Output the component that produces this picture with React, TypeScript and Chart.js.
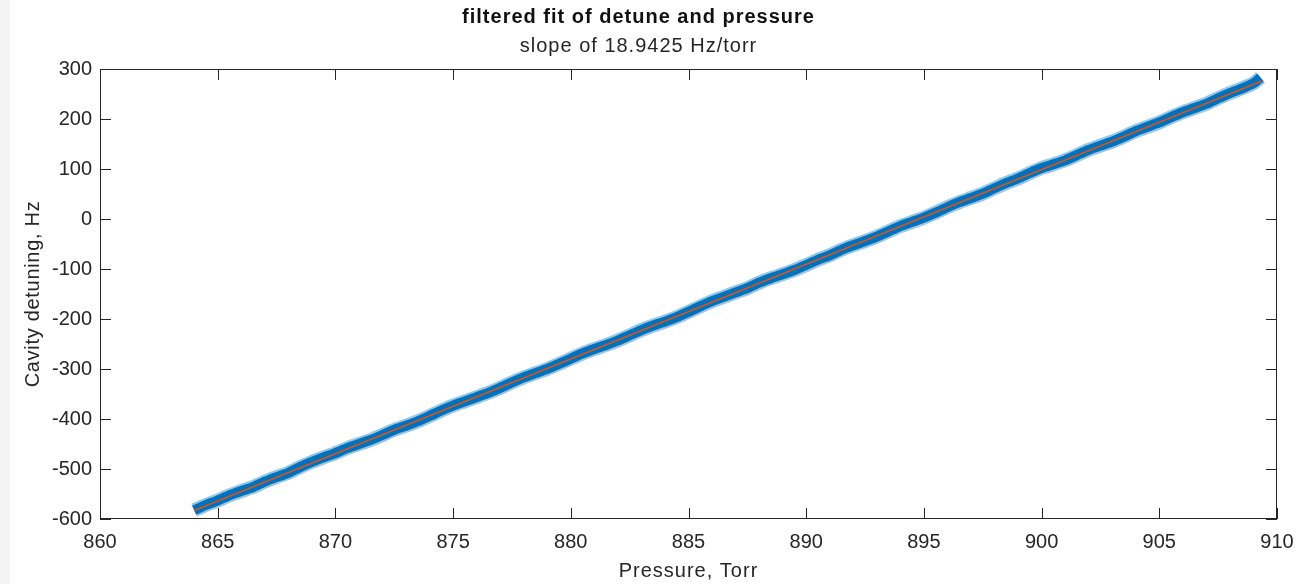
import React, { useEffect, useRef } from "react";
import { Chart, registerables } from "chart.js";

Chart.register(...registerables);

const TITLE = "filtered fit of detune and pressure";
const SUBTITLE = "slope of 18.9425 Hz/torr";
const X_LABEL = "Pressure, Torr";
const Y_LABEL = "Cavity detuning, Hz";

const xTicks = [860, 865, 870, 875, 880, 885, 890, 895, 900, 905, 910];
const yTicks = [-600, -500, -400, -300, -200, -100, 0, 100, 200, 300];

const pressure = [
  864.0, 864.5, 865.0, 865.5, 866.0, 866.5, 867.0, 867.5, 868.0, 868.5,
  869.0, 869.5, 870.0, 870.5, 871.0, 871.5, 872.0, 872.5, 873.0, 873.5,
  874.0, 874.5, 875.0, 875.5, 876.0, 876.5, 877.0, 877.5, 878.0, 878.5,
  879.0, 879.5, 880.0, 880.5, 881.0, 881.5, 882.0, 882.5, 883.0, 883.5,
  884.0, 884.5, 885.0, 885.5, 886.0, 886.5, 887.0, 887.5, 888.0, 888.5,
  889.0, 889.5, 890.0, 890.5, 891.0, 891.5, 892.0, 892.5, 893.0, 893.5,
  894.0, 894.5, 895.0, 895.5, 896.0, 896.5, 897.0, 897.5, 898.0, 898.5,
  899.0, 899.5, 900.0, 900.5, 901.0, 901.5, 902.0, 902.5, 903.0, 903.5,
  904.0, 904.5, 905.0, 905.5, 906.0, 906.5, 907.0, 907.5, 908.0, 908.5,
  909.0, 909.3,
];

const detune = [
  -582.5, -572.0, -563.1, -552.6, -544.1, -536.2, -525.2, -516.2, -507.7, -496.3,
  -485.8, -476.8, -468.3, -458.4, -449.9, -441.9, -432.0, -421.5, -413.5, -404.5,
  -394.1, -383.1, -373.1, -364.7, -356.2, -347.7, -337.7, -326.8, -316.8, -308.3,
  -299.9, -289.9, -279.4, -268.9, -260.0, -252.0, -243.0, -232.6, -222.1, -213.1,
  -205.2, -196.2, -185.7, -174.7, -164.3, -155.8, -146.8, -138.4, -127.4, -118.4,
  -110.4, -102.0, -92.0, -81.5, -72.6, -61.6, -52.6, -44.1, -35.2, -24.7,
  -14.2, -5.8, 2.7, 12.7, 23.6, 33.6, 42.1, 50.6, 61.5, 72.0,
  81.0, 91.9, 101.9, 109.4, 117.3, 127.8, 138.3, 146.8, 154.7, 164.7,
  175.7, 184.6, 193.1, 203.6, 213.5, 222.0, 230.5, 241.5, 251.9, 260.9,
  271.4, 283.0,
];

const fitPressure = [864.0, 909.36];
const fitDetune = [-583.0, 276.2];

const FONT = "'Liberation Sans', Arial, Helvetica, sans-serif";
const AXIS = "#262626";
const BLUE = "#0072BD";
const ORANGE = "#D95319";

const SPACING: Record<string, string> = {
  [TITLE]: "1px",
  [SUBTITLE]: "1px",
  [X_LABEL]: "1px",
  [Y_LABEL]: "0.7px",
};

const spacingPlugin = {
  id: "spacing",
  beforeDraw(chart: any) {
    const ctx = chart.ctx;
    if (ctx.__patched) return;
    const orig = ctx.fillText.bind(ctx);
    ctx.fillText = function (t: any, x: number, y: number, mw?: number) {
      try {
        ctx.letterSpacing = SPACING[String(t)] || "0px";
      } catch (e) {}
      return mw === undefined ? orig(t, x, y) : orig(t, x, y, mw);
    };
    ctx.__patched = true;
  },
};

const boxPlugin = {
  id: "matlabBox",
  afterDatasetsDraw(chart: any) {
    const { ctx, chartArea, scales } = chart;
    const { left, right, top, bottom } = chartArea;
    const L = 11;
    ctx.save();
    ctx.strokeStyle = AXIS;
    ctx.lineWidth = 1;
    ctx.beginPath();
    xTicks.forEach((v) => {
      const px = Math.round(scales.x.getPixelForValue(v)) + 0.5;
      ctx.moveTo(px, bottom);
      ctx.lineTo(px, bottom - L);
      ctx.moveTo(px, top);
      ctx.lineTo(px, top + L);
    });
    yTicks.forEach((v) => {
      const py = Math.round(scales.y.getPixelForValue(v)) + 0.5;
      ctx.moveTo(left, py);
      ctx.lineTo(left + L, py);
      ctx.moveTo(right, py);
      ctx.lineTo(right - L, py);
    });
    ctx.stroke();
    ctx.strokeRect(left + 0.5, top + 0.5, right - left - 1, bottom - top - 1);
    ctx.restore();
  },
};

export default function App() {
  const ref = useRef<HTMLCanvasElement | null>(null);

  useEffect(() => {
    document.body.style.margin = "0";
    const canvas = ref.current;
    if (!canvas) return;
    const dataPts = pressure.map((p, i) => ({ x: p, y: detune[i] }));
    const fitPts = fitPressure.map((p, i) => ({ x: p, y: fitDetune[i] }));
    const chart = new Chart(canvas, {
      type: "line",
      data: {
        datasets: [
          {
            data: fitPts,
            order: 0,
            borderColor: ORANGE,
            borderWidth: 1.6,
            pointRadius: 0,
            tension: 0,
          },
          {
            data: dataPts,
            order: 1,
            borderColor: BLUE,
            borderWidth: 10,
            pointRadius: 0,
            borderJoinStyle: "round",
            borderCapStyle: "butt",
            tension: 0.2,
          },
          {
            data: dataPts,
            order: 2,
            borderColor: "rgba(0,114,189,0.4)",
            borderWidth: 14,
            pointRadius: 0,
            borderJoinStyle: "round",
            borderCapStyle: "butt",
            tension: 0.2,
          },
        ],
      },
      options: {
        animation: false,
        responsive: false,
        maintainAspectRatio: false,
        layout: { padding: { left: 0, right: 30, top: 0, bottom: 0 } },
        plugins: {
          legend: { display: false },
          tooltip: { enabled: false },
          title: {
            display: true,
            text: TITLE,
            color: "#111111",
            font: { family: FONT, size: 20, weight: "bold", lineHeight: 1.2 },
            padding: { top: 5, bottom: 3 },
          },
          subtitle: {
            display: true,
            text: SUBTITLE,
            color: AXIS,
            font: { family: FONT, size: 20, lineHeight: 1.2 },
            padding: { top: 2, bottom: 11 },
          },
        },
        scales: {
          x: {
            type: "linear",
            min: 860,
            max: 910,
            afterFit: (s: any) => {
              s.height = 65;
            },
            afterBuildTicks: (s: any) => {
              s.ticks = xTicks.map((v) => ({ value: v }));
            },
            grid: { display: false, drawTicks: false },
            border: { display: false },
            ticks: {
              color: AXIS,
              padding: 11,
              maxRotation: 0,
              font: { family: FONT, size: 20 },
            },
            title: {
              display: true,
              text: X_LABEL,
              color: AXIS,
              font: { family: FONT, size: 20, lineHeight: 1.2 },
              padding: { top: 0, bottom: 1 },
            },
          },
          y: {
            type: "linear",
            min: -600,
            max: 300,
            afterFit: (s: any) => {
              s.width = 100;
            },
            afterBuildTicks: (s: any) => {
              s.ticks = yTicks.map((v) => ({ value: v }));
            },
            grid: { display: false, drawTicks: false },
            border: { display: false },
            ticks: {
              color: AXIS,
              padding: 8,
              font: { family: FONT, size: 20 },
            },
            title: {
              display: true,
              text: Y_LABEL,
              color: AXIS,
              font: { family: FONT, size: 20, lineHeight: 1.2 },
              padding: { top: 21, bottom: 0 },
            },
          },
        },
      },
      plugins: [spacingPlugin, boxPlugin],
    } as any);
    return () => chart.destroy();
  }, []);

  return (
    <div
      style={{
        position: "relative",
        width: 1307,
        height: 584,
        background: "#ffffff",
        overflow: "hidden",
      }}
    >
      <div
        style={{
          position: "absolute",
          left: 0,
          top: 0,
          width: 10,
          height: 584,
          background: "#f3f4f6",
        }}
      />
      <canvas
        ref={ref}
        width={1307}
        height={584}
        style={{ position: "absolute", left: 0, top: 0, width: 1307, height: 584 }}
      />
    </div>
  );
}
